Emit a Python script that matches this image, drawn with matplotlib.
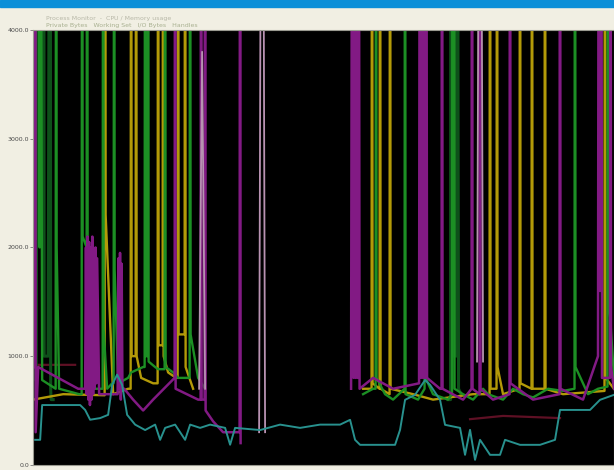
import numpy as np
import matplotlib.pyplot as plt
from matplotlib.patches import Rectangle

nan = np.nan

# sample time (s) and values per trace (nan = no sample)
green_t = [0, 1.5, 2, 2.5, 6, 6.5, 7, 9, 22.5, 23, 23.5, 26, 46, 48.5, 49, 49.5, 53.5,
           54, 54.5, 58, 67, 69.5, 70, 70.5, 74, 79, 80.5, 81, 81.5, 85, 95, 98, 110,
           111.5, 112, 112.5, 114.5, 115, 115.5, 122, 125, 131.5, 132, 132.5, 140, 145,
           156.5, 157, 157.5, 165, 172, 180,
           330, 340, 342.5, 343, 343.5, 352, 360, 371.5, 372, 372.5, 385, 391.5, 392,
           392.5, 400, 415, 419, 419.5, 421, 421.5, 430, 440, 450, 455, 470, 480, 490,
           500, 515, 530, 541.5, 542, 542.5, 555, 565, 574.5, 575, 575.5, 581]
green_v = [780, 9000, 2070, 9000, 9000, 2000, 9000, 780, 700, 9000, 2000, 700, 650, 650,
           9000, 2100, 2000, 9000, 2000, 700, 700, 700, 9000, 1250, 700, 750, 750, 9000,
           1800, 750, 800, 850, 900, 900, 9000, 1000, 1000, 9000, 950, 900, 880, 880,
           9000, 900, 850, 800, 800, 9000, 1200, 800, 700, nan,
           650, 700, 700, 9000, 800, 650, 600, 700, 9000, 650, 600, 700, 9000, 800, 650,
           600, 650, 9000, 9000, 700, 650, 600, 700, 650, 600, 700, 650, 620, 700, 680,
           700, 9000, 900, 650, 700, 720, 9000, 1600, 800]

gold_t = [0, 30, 71.5, 72, 72.5, 80, 95, 97.5, 98, 98.5, 102.5, 103, 103.5, 108, 120,
          124.5, 125, 125.5, 129.5, 130, 130.5, 135, 143, 144.5, 145, 145.5, 151.5, 152,
          152.5, 160, 175,
          330, 338.5, 339, 339.5, 346.5, 347, 347.5, 356.5, 357, 357.5, 380, 400, 440,
          456.5, 457, 457.5, 463.5, 464, 464.5, 470, 486.5, 487, 487.5, 498.5, 499,
          499.5, 511.5, 512, 512.5, 530, 571.5, 572, 572.5, 581]
gold_v = [600, 650, 640, 9000, 2300, 650, 700, 700, 9000, 1000, 1000, 9000, 1000, 800,
          750, 750, 9000, 1100, 1100, 9000, 1000, 850, 800, 800, 9000, 1200, 1200, 9000,
          900, 700, nan,
          700, 700, 9000, 750, 700, 9000, 700, 650, 9000, 700, 650, 600, 650, 650, 9000,
          700, 700, 9000, 900, 650, 700, 9000, 750, 700, 9000, 700, 700, 9000, 700, 650,
          680, 9000, 800, 700]

magenta_t = [0, 1.5, 2, 2.5, 5, 45, 52, 52.8, 53.6, 54.4, 55.2, 56, 56.8, 57.6, 58.4,
             59.2, 60, 60.8, 61.6, 62.4, 63.2, 64, 66, 84.5, 85.3, 86.1, 86.9, 87.7,
             88.5, 89.3, 91, 100, 110, 120, 141.5, 142, 142.5, 165, 167.5, 168, 168.5,
             171.5, 172, 172.5, 180, 190, 206.5, 207, 207.5, 215,
             318, 319.5, 320.5, 321.5, 322.5, 323.5, 324.5, 325.5, 326.5, 340, 360, 386,
             387, 388, 389, 390, 391, 392, 393, 394, 407, 408.5, 409, 409.5, 430, 438.5,
             439, 439.5, 446.5, 447, 447.5, 460, 476.5, 477, 477.5, 500, 526.5, 527,
             527.5, 550, 565, 566, 567, 568, 569, 577, 577.5, 578, 581]
magenta_v = [900, 900, 9000, 300, 900, 700, 700, 2000, 650, 2100, 600, 2050, 550, 2000,
             600, 2100, 650, 1950, 700, 2000, 750, 1900, 650, 650, 1900, 700, 1950, 600,
             1850, 700, 700, 600, 500, 600, 800, 9000, 700, 600, 600, 9000, 600, 600,
             9000, 500, 400, 300, 300, 9000, 200, nan,
             700, 9000, 800, 9000, 800, 9000, 800, 9000, 700, 800, 700, 750, 9000, 800,
             9000, 800, 9000, 800, 9000, 800, 700, 700, 9000, 700, 600, 700, 9000, 700,
             650, 9000, 700, 600, 650, 9000, 750, 600, 650, 9000, 700, 600, 1000, 9000,
             1600, 9000, 800, 800, 9000, 900, 700]

darkgreen_t = [3, 5, 5.5, 10, 10.5, 11, 15, 17, 17.5, 18, 20, nan, 415, 417.5, 418,
               419, 420, 421, 422, 423, 424, 425.5, 428]
darkgreen_v = [600, 9000, 2100, 2100, 9000, 1000, 1000, 9000, 700, 600, 600, nan, 600,
               600, 9000, 1000, 9000, 1000, 9000, 1000, 9000, 700, 650]

pink_t = [166, 169, 172, 173, 226, 229, 232, 233, 444, 447, 450]
pink_v = [700, 3800, 700, nan, 300, 9000, 300, nan, 950, 9000, 950]

darkred_t = [0, 42, 43, 437, 470, 527]
darkred_v = [920, 920, nan, 420, 450, 430]

teal_t = [2, 7, 9, 47, 52, 57, 67, 75, 79, 84, 89, 94, 102, 112, 122, 127, 132, 142,
          152, 157, 167, 177, 192, 197, 202, 227, 247, 267, 287, 307, 317, 322, 327,
          362, 367, 372, 382, 392, 397, 407, 412, 427, 432, 437, 442, 447, 457, 467,
          472, 487, 507, 522, 527, 557, 567, 581]
teal_v = [230, 230, 550, 550, 505, 415, 430, 460, 735, 830, 735, 460, 370, 320, 370, 230,
          340, 370, 230, 370, 340, 370, 340, 185, 340, 320, 370, 340, 370, 370, 414,
          230, 184, 184, 322, 598, 644, 780, 736, 598, 368, 340, 92, 322, 46, 230, 92, 92,
          230, 184, 184, 230, 505, 505, 598, 644]

yticks = [0, 1000, 2000, 3000, 4000]

fig = plt.figure(figsize=(6.14, 4.70), dpi=100)
fig.set_facecolor('#f1efe3')
fig.patches.append(Rectangle((0, 0.985), 1, 0.015, transform=fig.transFigure,
                             color='#0b8fd8', zorder=5))
fig.text(0.075, 0.958, 'Process Monitor  -  CPU / Memory usage', fontsize=4.5,
         color='#b8b8a8')
fig.text(0.075, 0.943, 'Private Bytes   Working Set   I/O Bytes   Handles', fontsize=4.5,
         color='#a8b090')

ax = fig.add_axes([0.054, 0.011, 0.946, 0.925])
ax.set_facecolor('black')

ax.plot(darkred_t, darkred_v, color='#5e1024', lw=1.6)
ax.plot(darkgreen_t, darkgreen_v, color='#0e501a', lw=2.2)
ax.plot(gold_t, gold_v, color='#b39a08', lw=1.7)
ax.plot(green_t, green_v, color='#1c8f24', lw=1.7)
ax.plot(magenta_t, magenta_v, color='#821a84', lw=1.8)
ax.plot(pink_t, pink_v, color='#b892b2', lw=1.3)
ax.plot(teal_t, teal_v, color='#28918e', lw=1.4)

ax.set_xlim(0, 581)
ax.set_ylim(0, 4000)
ax.set_xticks([])
ax.set_yticks(yticks)
ax.set_yticklabels(['%.1f' % v for v in yticks], fontsize=4.5, color='#4a4a4a')
ax.tick_params(axis='y', length=2, width=0.6, color='#777777', pad=1)
for s in ax.spines.values():
    s.set_color('#9a9a90')
    s.set_linewidth(0.8)

fig.savefig('out.png', dpi=100, facecolor=fig.get_facecolor())
